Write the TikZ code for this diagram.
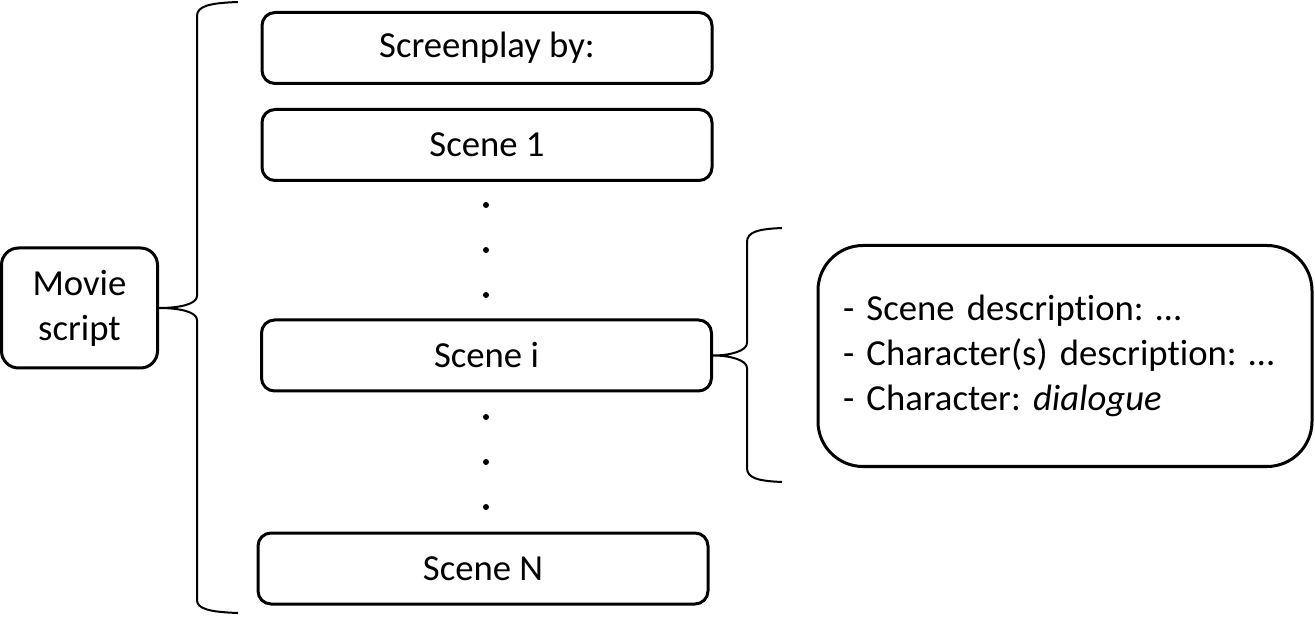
\documentclass[tikz,border=0pt]{standalone}
\usepackage{fontspec}
\setmainfont{Carlito}[Ligatures=NoCommon]
\usepackage{tikz}
\frenchspacing

\begin{document}
\begin{tikzpicture}[x=1pt, y=-1pt,
  every node/.style={font=\fontsize{36.7}{45}\selectfont, inner sep=0pt},
  part/.style={draw, line width=3pt, rounded corners=13pt, minimum width=450pt, minimum height=71pt},
  bracket/.style={line width=2pt}]
\useasboundingbox (0,0) rectangle (1315,617);
\node[part, minimum width=156pt, minimum height=120pt, rounded corners=17pt, align=center] (movie) at (79.5,308) {Movie\\script};
\node[part] (title) at (487,48) {Screenplay by:};
\node[part] (scene1) at (487,145) {Scene 1};
\node[part] (scenei) at (486.5,355.5) {Scene i};
\node[part] (sceneN) at (483,568.5) {Scene N};
\node[part, minimum width=494pt, minimum height=221pt, rounded corners=45pt, text width=444pt, align=left] (details) at (1065,356)
  {\raisebox{-2pt}{\parbox{444pt}{- Scene description: …\\- Character(s) description: …\\- Character: \textit{dialogue}}}};
\fill (486,205) circle (3pt);
\fill (486,250) circle (3pt);
\fill (486,295) circle (3pt);
\fill (486,417) circle (3pt);
\fill (486,462) circle (3pt);
\fill (486,507) circle (3pt);
\coordinate (b1top) at (238,2);
\coordinate (b1bot) at (238,613);
\coordinate (b2top) at (782,228);
\coordinate (b2bot) at (782,482);
\draw[bracket] (b1top) .. controls (210,3) and (197,6) .. (197,16) -- (197,296)
  .. controls (197,304) and (180,308) .. (movie.east)
  .. controls (180,308) and (197,312) .. (197,320) -- (197,600)
  .. controls (197,609) and (210,612) .. (b1bot);
\draw[bracket] (b2top) .. controls (758,229) and (747,232) .. (747,242) -- (747,343)
  .. controls (747,351) and (730,355.5) .. (scenei.east)
  .. controls (730,355.5) and (747,360) .. (747,368) -- (747,468)
  .. controls (747,478) and (758,481) .. (b2bot);
\end{tikzpicture}
\end{document}
